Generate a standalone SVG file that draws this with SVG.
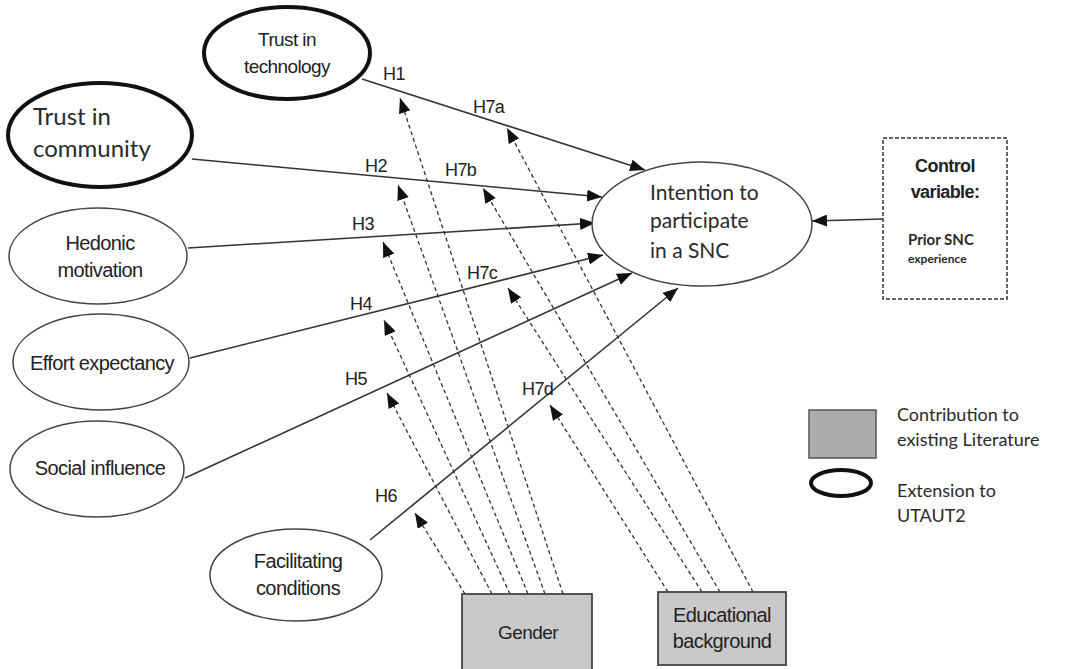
<svg xmlns="http://www.w3.org/2000/svg" width="1071" height="669" viewBox="0 0 1071 669">
<defs>
<marker id="ah" markerUnits="userSpaceOnUse" markerWidth="16" markerHeight="12" viewBox="0 0 16 12" refX="15" refY="6" orient="auto">
<path d="M0,0 L15,6 L0,12 Z" fill="#111"/>
</marker>
<style>
.e{fill:#fff;stroke:#444;stroke-width:1.5}
.et{fill:#fff;stroke:#111;stroke-width:4}
.box{fill:#c9c9c9;stroke:#444;stroke-width:1.8}
.a{font-family:"Liberation Sans",Arial,sans-serif;fill:#222;letter-spacing:-0.6px}
.c{font-family:Lato,"Open Sans",sans-serif;fill:#2a2a2a}
.s{fill:none;stroke:#333;stroke-width:1.6;marker-end:url(#ah)}
.d{fill:none;stroke:#333;stroke-width:1.3;stroke-dasharray:4 3;marker-end:url(#ah)}
.h{font-family:"Liberation Sans",Arial,sans-serif;font-size:18px;fill:#222;letter-spacing:-0.6px}
</style>
</defs>
<rect width="1071" height="669" fill="#fff"/>

<g id="connectors">
<line class="s" x1="362" y1="79" x2="645" y2="170"/>
<line class="s" x1="192" y1="159" x2="602" y2="197"/>
<line class="s" x1="188" y1="248" x2="595" y2="223"/>
<line class="s" x1="190" y1="358" x2="603" y2="255"/>
<line class="s" x1="185" y1="478" x2="632" y2="273"/>
<line class="s" x1="370" y1="540" x2="678" y2="288"/>
<line class="s" x1="883" y1="219" x2="812" y2="221"/>
<line class="d" x1="465" y1="594" x2="415" y2="513"/>
<line class="d" x1="492" y1="594" x2="387" y2="393"/>
<line class="d" x1="510" y1="594" x2="384" y2="320"/>
<line class="d" x1="528" y1="594" x2="383" y2="242"/>
<line class="d" x1="545" y1="594" x2="398" y2="185"/>
<line class="d" x1="563" y1="594" x2="400" y2="98"/>
<line class="d" x1="668" y1="592" x2="550" y2="405"/>
<line class="d" x1="702" y1="592" x2="508" y2="288"/>
<line class="d" x1="720" y1="592" x2="483" y2="188"/>
<line class="d" x1="753" y1="592" x2="507" y2="128"/>
<text class="h" x="383" y="80">H1</text>
<text class="h" x="473" y="113">H7a</text>
<text class="h" x="365" y="172">H2</text>
<text class="h" x="445" y="176">H7b</text>
<text class="h" x="352" y="230">H3</text>
<text class="h" x="467" y="279">H7c</text>
<text class="h" x="350" y="310">H4</text>
<text class="h" x="345" y="385">H5</text>
<text class="h" x="522" y="395">H7d</text>
<text class="h" x="375" y="502">H6</text>
</g>

<g id="trust-technology">
<ellipse class="et" cx="287" cy="53" rx="83" ry="46"/>
<text class="a" font-size="19" text-anchor="middle" x="287" y="46">Trust in</text>
<text class="a" font-size="19" text-anchor="middle" x="287" y="73">technology</text>
</g>

<g id="trust-community">
<ellipse class="et" cx="100" cy="135" rx="92" ry="52"/>
<text class="c" font-size="24" x="33" y="125">Trust in</text>
<text class="c" font-size="24" x="33" y="157">community</text>
</g>

<g id="hedonic">
<ellipse class="e" cx="98" cy="256" rx="89" ry="48"/>
<text class="a" font-size="20" text-anchor="middle" x="100" y="250">Hedonic</text>
<text class="a" font-size="20" text-anchor="middle" x="100" y="277">motivation</text>
</g>

<g id="effort">
<ellipse class="e" cx="101" cy="362" rx="88" ry="48"/>
<text class="a" font-size="20" text-anchor="middle" x="102" y="370">Effort expectancy</text>
</g>

<g id="social">
<ellipse class="e" cx="97" cy="469" rx="87" ry="48"/>
<text class="a" font-size="20" text-anchor="middle" x="100" y="475">Social influence</text>
</g>

<g id="facilitating">
<ellipse class="e" cx="296" cy="575" rx="86" ry="46"/>
<text class="a" font-size="20" text-anchor="middle" x="298" y="568">Facilitating</text>
<text class="a" font-size="20" text-anchor="middle" x="298" y="595">conditions</text>
</g>

<g id="intention">
<ellipse class="e" cx="702" cy="224" rx="110" ry="62"/>
<text class="c" font-size="21" x="650" y="200">Intention to</text>
<text class="c" font-size="21" x="650" y="228">participate</text>
<text class="c" font-size="21" x="650" y="258">in a SNC</text>
</g>

<g id="control">
<rect x="883" y="138" width="124" height="161" fill="#fff" stroke="#333" stroke-width="1.5" stroke-dasharray="4 2"/>
<text class="a" font-size="18" font-weight="bold" text-anchor="middle" x="945" y="172">Control</text>
<text class="a" font-size="18" font-weight="bold" text-anchor="middle" x="945" y="198">variable:</text>
<text class="c" font-size="15" font-weight="bold" x="908" y="245">Prior SNC</text>
<text class="c" font-size="12" font-weight="bold" x="908" y="263">experience</text>
</g>

<g id="gender">
<rect class="box" x="462" y="594" width="130" height="80"/>
<text class="a" font-size="19" text-anchor="middle" x="528" y="639">Gender</text>
</g>

<g id="education">
<rect class="box" x="658" y="592" width="128" height="73"/>
<text class="a" font-size="20" text-anchor="middle" x="722" y="622">Educational</text>
<text class="a" font-size="20" text-anchor="middle" x="722" y="648">background</text>
</g>

<g id="legend">
<rect x="809" y="410" width="67" height="48" fill="#adaaab" stroke="#555" stroke-width="1.5"/>
<ellipse cx="841" cy="483" rx="30" ry="13" fill="#fff" stroke="#111" stroke-width="4"/>
<text class="c" font-size="18" x="897" y="421">Contribution to</text>
<text class="c" font-size="18" x="897" y="446">existing Literature</text>
<text class="c" font-size="18" x="897" y="497">Extension to</text>
<text class="c" font-size="18" x="897" y="522">UTAUT2</text>
</g>
</svg>
